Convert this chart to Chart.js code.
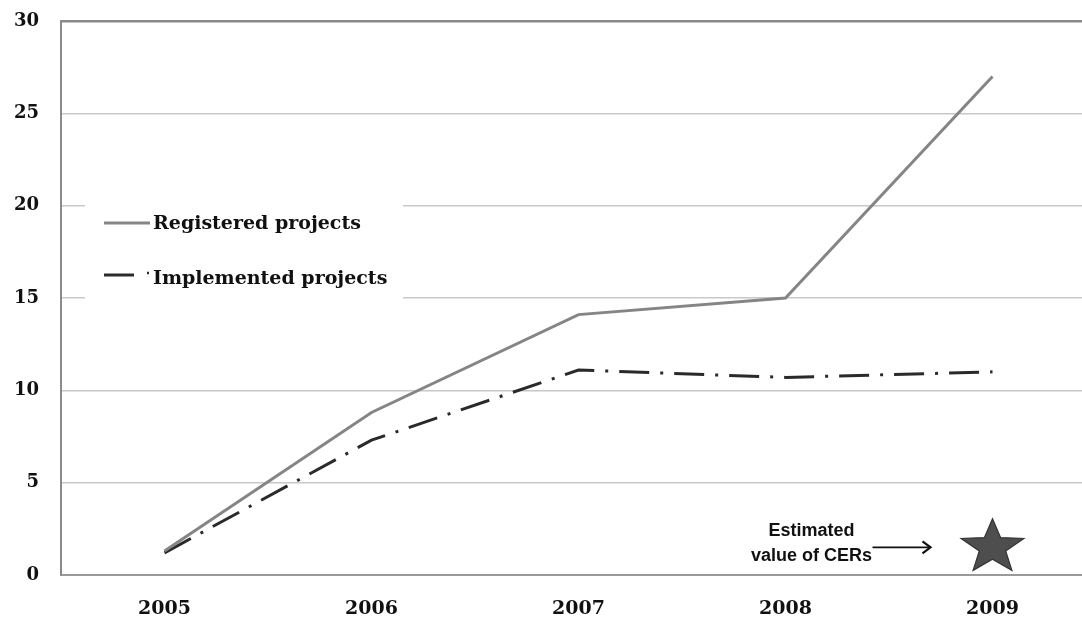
<!DOCTYPE html>
<html><head><meta charset="utf-8">
<script src="https://cdn.jsdelivr.net/npm/chart.js@4/dist/chart.umd.min.js"></script>
<style>
html,body{margin:0;padding:0;background:#fff;overflow:hidden;width:1082px;height:622px;}
#wrap{position:relative;width:1096px;height:622px;}
</style></head><body>
<div id="wrap"><canvas id="c" width="1096" height="622"></canvas></div>
<script>
const years = ['2005','2006','2007','2008','2009'];
const registered = [1.3, 8.8, 14.1, 15.0, 27.0];
const implemented = [1.2, 7.3, 11.1, 10.7, 11.0];
const cerEstimate = [null, null, null, null, 1.5];
const yTicks = [0,5,10,15,20,25,30];
const legendLabels = ['Registered projects','Implemented projects'];
const noteLines = ['Estimated','value of CERs'];

const serif = '"DejaVu Serif", serif';
const sans = '"Liberation Sans", Arial, sans-serif';

function drawStar(ctx, cx, cy, Rx, Ry, k){
  ctx.beginPath();
  for(let i=0;i<10;i++){
    const f = i%2===0 ? 1 : k;
    const a = -Math.PI/2 + i*Math.PI/5;
    const x = cx + Rx*f*Math.cos(a), y = cy + Ry*f*Math.sin(a);
    if(i===0) ctx.moveTo(x,y); else ctx.lineTo(x,y);
  }
  ctx.closePath();
}

const overlay = {
  id:'overlay',
  beforeDatasetsDraw(chart){
    const ctx = chart.ctx;
    ctx.save();
    ctx.fillStyle = '#fff';
    ctx.fillRect(85, 190, 318, 120);
    ctx.lineWidth = 3;
    ctx.strokeStyle = '#858585';
    ctx.beginPath(); ctx.moveTo(104,223); ctx.lineTo(150,223); ctx.stroke();
    ctx.strokeStyle = '#2a2a2a';
    ctx.beginPath(); ctx.moveTo(104,275); ctx.lineTo(134,275); ctx.stroke();
    ctx.lineWidth = 2.5;
    ctx.beginPath(); ctx.moveTo(147,273); ctx.lineTo(149,273); ctx.stroke();
    ctx.fillStyle = '#111';
    ctx.font = 'bold 19px ' + serif;
    ctx.textBaseline = 'middle';
    ctx.textAlign = 'left';
    ctx.fillText(legendLabels[0], 153, 224);
    ctx.fillText(legendLabels[1], 153, 279);
    ctx.restore();
  },
  afterDatasetsDraw(chart){
    const ctx = chart.ctx;
    const xs = chart.scales.x, ys = chart.scales.y;
    ctx.save();
    const i = cerEstimate.findIndex(v => v !== null);
    const cx = xs.getPixelForValue(i), cy = ys.getPixelForValue(cerEstimate[i]);
    drawStar(ctx, cx, cy, 33, 28.5, 0.42);
    ctx.fillStyle = '#4e4e4e';
    ctx.fill();
    ctx.strokeStyle = '#333';
    ctx.lineWidth = 1.2;
    ctx.stroke();
    ctx.strokeStyle = '#111';
    ctx.lineWidth = 1.8;
    ctx.beginPath(); ctx.moveTo(cx-120, cy); ctx.lineTo(cx-63, cy); ctx.stroke();
    ctx.lineWidth = 2.2;
    ctx.beginPath(); ctx.moveTo(cx-70, cy-6); ctx.lineTo(cx-62, cy); ctx.lineTo(cx-70, cy+6); ctx.stroke();
    ctx.fillStyle = '#111';
    ctx.font = 'bold 18px ' + sans;
    ctx.textAlign = 'center';
    ctx.textBaseline = 'middle';
    ctx.fillText(noteLines[0], cx-181, cy-16);
    ctx.fillText(noteLines[1], cx-181, cy+9);
    ctx.restore();
  }
};

new Chart(document.getElementById('c'), {
  type:'line',
  data:{
    labels: years,
    datasets:[
      {label:legendLabels[0], data:registered, borderColor:'#858585', borderWidth:3,
       pointRadius:0, tension:0, fill:false},
      {label:legendLabels[1], data:implemented, borderColor:'#2a2a2a', borderWidth:3,
       borderDash:[30,11,3,11], pointRadius:0, tension:0, fill:false}
    ]
  },
  options:{
    responsive:false, animation:false, devicePixelRatio:1,
    layout:{padding:{top:21,right:0,bottom:0,left:0}},
    plugins:{legend:{display:false}, tooltip:{enabled:false}, title:{display:false}},
    scales:{
      x:{
        type:'category', offset:true,
        grid:{display:false, drawTicks:false},
        border:{display:true, color:'#9a9a9a', width:2},
        ticks:{color:'#111', font:{family:serif, weight:'bold', size:19}, padding:23},
        afterFit(s){ s.height = 47; }
      },
      y:{
        min:0, max:30,
        afterBuildTicks(s){ s.ticks = yTicks.map(v=>({value:v})); },
        grid:{
          color:(c)=> c.tick && c.tick.value===30 ? '#8a8a8a' : '#c8c8c8',
          lineWidth:(c)=> c.tick && c.tick.value===30 ? 2.5 : 1.5,
          drawTicks:true, tickLength:20, tickColor:'rgba(0,0,0,0)'
        },
        border:{display:true, color:'#8a8a8a', width:2},
        ticks:{color:'#111', font:{family:serif, weight:'bold', size:18}, padding:2},
        afterFit(s){ s.width = 61; }
      }
    }
  },
  plugins:[overlay]
});
</script>
</body></html>
